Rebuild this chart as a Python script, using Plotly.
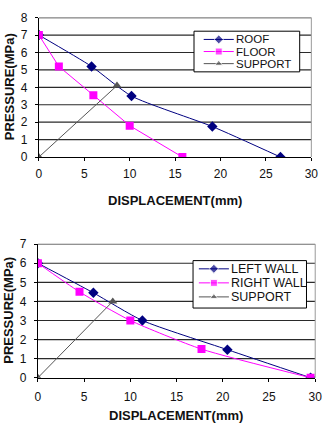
import plotly.graph_objects as go

# Top chart data
roof_x = [0, 5.8, 10.2, 19.1, 26.6]
roof_y = [7, 5.2, 3.5, 1.75, 0]
floor_x = [0, 2.2, 6.0, 10.0, 15.8]
floor_y = [7, 5.2, 3.55, 1.8, 0]
sup1_x = [0, 8.6]
sup1_y = [0, 4.1]
top_names = ["ROOF", "FLOOR", "SUPPORT"]

# Bottom chart data
lw_x = [0, 6.0, 11.3, 20.5, 29.5]
lw_y = [6, 4.45, 3.0, 1.47, 0]
rw_x = [0, 4.5, 10.0, 17.7, 29.5]
rw_y = [6, 4.5, 3.0, 1.5, 0]
sup2_x = [0, 8.1]
sup2_y = [0, 4.0]
bot_names = ["LEFT WALL", "RIGHT WALL", "SUPPORT"]

NAVY = "#000080"
MAG = "#FF00FF"
GRAY = "#555555"
GRID = "#2a2a2a"
FONT = "Liberation Sans, Arial, sans-serif"

W, H = 329, 437
def px(v): return v / W
def py(v): return (H - v) / H

# plot-area pixel boxes: (left, right, top, bottom)
BOX1 = (37, 318, 11, 155)
BOX2 = (36, 322, 245, 383)
YMAX1, YMAX2 = 8, 7
LEG1 = (197, 25, 306, 67)
LEG2 = (196, 262, 313, 311)

def to_data(box, ymax, xp, yp):
    l, r, t, b = box
    return (xp - l) / (r - l) * 30, (b - yp) / (b - t) * ymax

fig = go.Figure()

def add(x, y, name, color, symbol, xa, ya, shape="spline"):
    fig.add_trace(go.Scatter(
        x=x, y=y, name=name, mode="lines+markers",
        line=dict(color=color, width=1, shape=shape, smoothing=0.6),
        marker=dict(color=color, symbol=symbol, size=8),
        xaxis=xa, yaxis=ya, showlegend=False))

add(roof_x, roof_y, top_names[0], NAVY, "diamond", "x", "y")
add(floor_x, floor_y, top_names[1], MAG, "square", "x", "y", "linear")
add(sup1_x, sup1_y, top_names[2], GRAY, "triangle-up", "x", "y", "linear")
add(lw_x, lw_y, bot_names[0], NAVY, "diamond", "x2", "y2")
add(rw_x, rw_y, bot_names[1], MAG, "square", "x2", "y2")
add(sup2_x, sup2_y, bot_names[2], GRAY, "triangle-up", "x2", "y2", "linear")

axis_common = dict(
    showline=True, linecolor="black", linewidth=1.2, mirror=False,
    ticks="outside", ticklen=3, tickcolor="black",
    tickfont=dict(family=FONT, size=12, color="#111111"),
    zeroline=False, showgrid=False,
)

fig.update_layout(
    width=W, height=H, margin=dict(l=0, r=0, t=0, b=0),
    paper_bgcolor="white", plot_bgcolor="white",
    font=dict(family=FONT, color="black"),
    showlegend=False,
    xaxis=dict(domain=[px(BOX1[0]), px(BOX1[1])], anchor="y", range=[0, 30], dtick=5,
               ticklabelstandoff=2, **axis_common),
    yaxis=dict(domain=[py(BOX1[3]), py(BOX1[2])], anchor="x", range=[0, YMAX1], dtick=1,
               ticklabelstandoff=5, **axis_common),
    xaxis2=dict(domain=[px(BOX2[0]), px(BOX2[1])], anchor="y2", range=[0, 30], dtick=5,
                ticklabelstandoff=5, **axis_common),
    yaxis2=dict(domain=[py(BOX2[3]), py(BOX2[2])], anchor="x2", range=[0, YMAX2], dtick=1,
                ticklabelstandoff=5, **axis_common),
)

# horizontal gridlines, interrupted by the legend box
def gridlines(box, ymax, leg, xa, ya):
    lx0, ly0 = to_data(box, ymax, leg[0], leg[1])
    lx1, ly1 = to_data(box, ymax, leg[2], leg[3])
    for v in range(1, ymax + 1):
        if ly1 <= v <= ly0:
            segs = [(0, lx0), (lx1, 30)]
        else:
            segs = [(0, 30)]
        for a, b in segs:
            fig.add_shape(type="line", xref=xa, yref=ya, x0=a, x1=b, y0=v, y1=v,
                          line=dict(color=GRID, width=1.2), layer="below")

gridlines(BOX1, YMAX1, LEG1, "x", "y")
gridlines(BOX2, YMAX2, LEG2, "x2", "y2")

# axis titles
for (xc, yc, text, ang) in [(177, 200, "DISPLACEMENT(mm)", 0), (7, 82, "PRESSURE(MPa)", -90),
                            (178, 422, "DISPLACEMENT(mm)", 0), (6, 313, "PRESSURE(MPa)", -90)]:
    fig.add_annotation(x=px(xc), y=py(yc), xref="paper", yref="paper", text="<b>%s</b>" % text,
                       showarrow=False, textangle=ang, xanchor="center", yanchor="middle",
                       font=dict(family=FONT, size=13, color="#111111"))

# plot area top/right border (gray)
for (l, r, t, b) in [BOX1, BOX2]:
    fig.add_shape(type="line", xref="paper", yref="paper",
                  x0=px(l), x1=px(r), y0=py(t), y1=py(t),
                  line=dict(color="#999999", width=1))
    fig.add_shape(type="line", xref="paper", yref="paper",
                  x0=px(r), x1=px(r), y0=py(t), y1=py(b),
                  line=dict(color="#999999", width=1))

def legend_box(box, ymax, xa, ya, rect, line_x, text_x, rows, names, colors, symbols, fsize):
    x0, y0, x1, y1 = rect
    fig.add_shape(type="rect", xref="paper", yref="paper",
                  x0=px(x0), x1=px(x1), y0=py(y0), y1=py(y1),
                  line=dict(color="black", width=1), fillcolor="rgba(0,0,0,0)")
    for name, color, sym, yr in zip(names, colors, symbols, rows):
        xa0, yd = to_data(box, ymax, line_x[0], yr)
        xa1, _ = to_data(box, ymax, line_x[1], yr)
        fig.add_trace(go.Scatter(
            x=[xa0, (xa0 + xa1) / 2, xa1], y=[yd, yd, yd], mode="lines+markers",
            line=dict(color=color, width=1),
            marker=dict(color=color, symbol=sym, size=[0, 7, 0]),
            xaxis=xa, yaxis=ya, showlegend=False, hoverinfo="skip"))
        fig.add_annotation(x=px(text_x), y=py(yr), xref="paper", yref="paper",
                           text=name, showarrow=False, xanchor="left", yanchor="middle",
                           borderpad=0,
                           font=dict(family=FONT, size=fsize, color="#111111"))

colors = [NAVY, MAG, GRAY]
symbols = ["diamond", "square", "triangle-up"]
legend_box(BOX1, YMAX1, "x", "y", LEG1, (207, 238), 239,
           [33.5, 46, 58.5], top_names, colors, symbols, 11.5)
legend_box(BOX2, YMAX2, "x2", "y2", LEG2, (202, 233), 234,
           [270.5, 285, 299.5], bot_names, colors, symbols, 12.5)

fig.write_html("out.html")
